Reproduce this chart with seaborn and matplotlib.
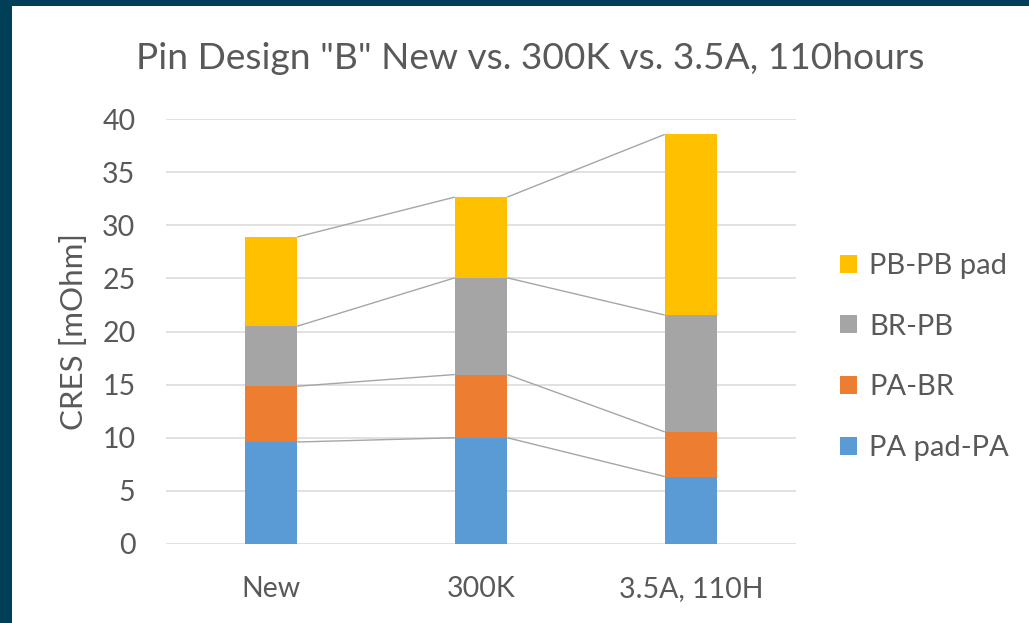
import matplotlib
matplotlib.use("Agg")
import matplotlib.pyplot as plt
from matplotlib.patches import Patch, Rectangle
import pandas as pd
import seaborn as sns

# ---- data -------------------------------------------------------------
categories = ["New", "300K", "3.5A, 110H"]
series_names = ["PA pad-PA", "PA-BR", "BR-PB", "PB-PB pad"]
pa_pad_pa = [9.6, 10.0, 6.35]
pa_br = [5.25, 5.95, 4.2]
br_pb = [5.65, 9.1, 11.0]
pb_pb_pad = [8.4, 7.6, 17.0]
y_ticks = [0, 5, 10, 15, 20, 25, 30, 35, 40]

title = 'Pin Design "B" New vs. 300K vs. 3.5A, 110hours'
y_label = "CRES [mOhm]"

# ---- style ------------------------------------------------------------
colors = ["#5B9BD5", "#ED7D31", "#A5A5A5", "#FFC000"]
text_color = "#595959"
grid_color = "#D9D9D9"
frame_color = "#013F58"

sns.set_theme(style="white")
plt.rcParams["font.family"] = ["Lato", "DejaVu Sans"]

W, H = 1029, 623
fig = plt.figure(figsize=(W / 100, H / 100), dpi=100)
fig.patch.set_facecolor(frame_color)
fig.add_artist(Rectangle((12 / W, 0), (W - 12) / W, (H - 6) / H,
                         transform=fig.transFigure, facecolor="white",
                         edgecolor="none", zorder=0))

ax = fig.add_axes([166 / W, 79 / H, 630 / W, 425 / H])
ax.set_facecolor("none")

# long table with cumulative tops for stacking
values = [pa_pad_pa, pa_br, br_pb, pb_pb_pad]
rows = []
for s, name in enumerate(series_names):
    for c, cat in enumerate(categories):
        bottom = sum(values[k][c] for k in range(s))
        rows.append({"category": cat, "series": name,
                     "value": values[s][c], "top": bottom + values[s][c]})
df = pd.DataFrame(rows)

bar_w = 0.25
# draw stacks from the top series down so each lower segment overlays
for s in reversed(range(len(series_names))):
    sub = df[df["series"] == series_names[s]]
    sns.barplot(data=sub, x="category", y="top", order=categories,
                color=colors[s], saturation=1, width=bar_w,
                errorbar=None, ax=ax, zorder=3, linewidth=0)

# series lines joining the top of each segment between neighbouring bars
for name in series_names:
    tops = df[df["series"] == name]["top"].tolist()
    for c in range(len(categories) - 1):
        ax.plot([c + bar_w / 2, c + 1 - bar_w / 2], [tops[c], tops[c + 1]],
                color="#A6A6A6", lw=1.0, zorder=2, solid_capstyle="butt")

ax.set_xlim(-0.5, len(categories) - 0.5)
ax.set_ylim(0, 40)
ax.set_yticks(y_ticks)
ax.yaxis.grid(True, color=grid_color, lw=1.1, zorder=0)
ax.set_axisbelow(True)
for sp in ax.spines.values():
    sp.set_visible(False)

ax.tick_params(axis="both", length=0, colors=text_color, labelsize=20.5)
ax.tick_params(axis="y", pad=22)
ax.tick_params(axis="x", pad=23)
ax.set_xlabel("")
ax.set_ylabel(y_label, color=text_color, fontsize=22.5)
ax.yaxis.set_label_coords(-0.124, 0.5)

fig.text(530 / W, 1 - 69 / H, title, ha="center", va="baseline",
         fontsize=26.7, color=text_color)

handles = [Patch(facecolor=colors[s], edgecolor="none", label=series_names[s])
           for s in reversed(range(len(series_names)))]
leg = fig.legend(handles=handles, loc="upper left",
                 bbox_to_anchor=(840 / W, 1 - 253 / H),
                 frameon=False, fontsize=21, labelcolor=text_color,
                 handlelength=0.58, handleheight=0.58, handletextpad=0.42,
                 labelspacing=1.19, borderpad=0, borderaxespad=0)

fig.savefig("out.png", dpi=100, facecolor=fig.get_facecolor())
